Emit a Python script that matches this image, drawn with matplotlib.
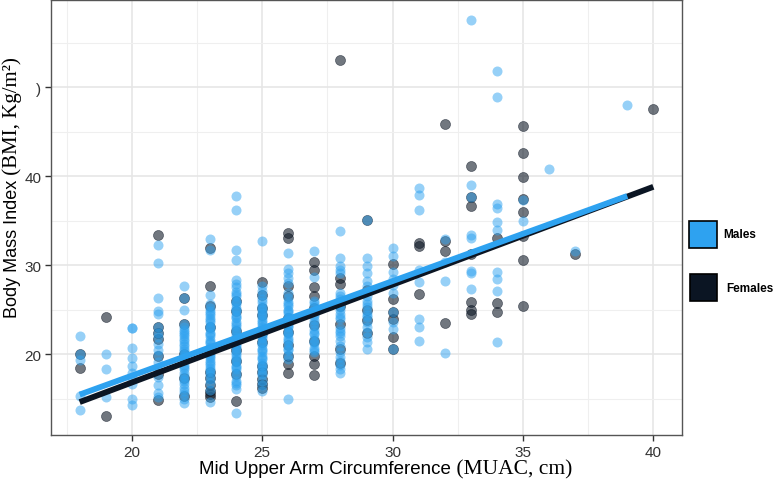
import matplotlib
matplotlib.use("Agg")
import matplotlib.pyplot as plt
from matplotlib.patches import Rectangle
import numpy as np

# ---------------- datos ----------------
MUAC = [18, 19, 20, 21, 22, 23, 24, 25, 26, 27, 28, 29, 30, 31, 32, 33, 34, 35, 36, 37, 39, 40]

male_bmi = {
    18: [22.0, 20.0, 19.3, 15.3, 13.7],
    19: [20.0, 18.3, 15.2],
    20: [22.9, 22.9, 20.7, 19.6, 18.7, 17.9, 17.2, 16.6, 15.0, 14.3],
    21: [32.3, 30.2, 26.3, 24.8, 24.5, 23.0, 22.4, 21.9, 21.1, 20.4, 19.9, 19.1, 18.2, 17.4,
         16.5, 15.6, 15.2],
    22: [27.6, 26.3, 25.0, 23.4, 23.0, 22.7, 22.5, 22.2, 22.0, 21.7, 21.5, 21.1, 20.9, 20.6,
         20.3, 20.0, 19.8, 19.6, 19.2, 18.8, 18.5, 18.3, 17.9, 17.5, 17.2, 17.0, 16.6, 16.2,
         15.8, 15.5, 15.0, 14.5],
    23: [32.9, 31.7, 26.6, 25.6, 25.2, 24.8, 24.6, 24.4, 24.0, 23.8, 23.6, 23.2, 23.0, 22.8,
         22.4, 22.2, 22.0, 21.6, 21.4, 21.2, 20.8, 20.6, 20.4, 20.0, 19.8, 19.6, 19.2, 19.0,
         18.8, 18.4, 18.2, 18.0, 17.6, 17.2, 16.8, 16.0, 14.6],
    24: [37.8, 36.2, 31.7, 30.6, 28.3, 27.9, 27.5, 27.0, 26.7, 26.5, 26.0, 25.8, 25.6, 25.2,
         25.0, 24.8, 24.4, 24.2, 24.0, 23.6, 23.4, 23.2, 22.8, 22.6, 22.3, 21.9, 21.7, 21.5,
         21.1, 20.9, 20.7, 20.3, 20.1, 19.9, 19.5, 19.3, 19.1, 18.7, 18.5, 18.3, 17.9, 17.5,
         17.0, 16.8, 16.5, 16.1, 13.4],
    25: [32.7, 27.6, 27.1, 26.6, 26.2, 25.9, 25.4, 25.2, 25.0, 24.6, 24.4, 24.2, 23.8, 23.6,
         23.4, 23.0, 22.8, 22.6, 22.2, 22.0, 21.8, 21.4, 21.2, 21.0, 20.6, 20.4, 20.2, 19.8,
         19.6, 19.4, 19.0, 18.8, 18.6, 18.2, 17.9, 17.6, 17.0, 16.5, 15.8],
    26: [31.4, 29.6, 29.1, 28.6, 28.0, 26.9, 26.3, 25.9, 25.6, 25.4, 25.0, 24.8, 24.6, 24.2,
         24.0, 23.8, 23.4, 23.2, 23.0, 22.6, 22.4, 22.2, 21.8, 21.6, 21.3, 20.9, 20.6, 20.4,
         19.9, 19.4, 14.9],
    27: [31.6, 28.7, 26.0, 25.7, 25.4, 24.8, 24.5, 24.3, 23.8, 23.5, 23.2, 22.7, 22.4, 22.2,
         21.7, 21.4, 21.2, 20.7, 20.4, 20.2],
    28: [33.8, 30.8, 29.9, 29.5, 29.1, 26.9, 26.5, 26.2, 25.9, 25.6, 25.3, 25.0, 24.5, 24.2,
         23.9, 22.9, 22.6, 22.4, 22.0, 21.5, 20.9, 20.2, 19.7, 19.2, 18.8, 18.3, 17.9],
    29: [35.1, 30.8, 29.9, 29.1, 28.2, 27.6, 26.5, 26.0, 25.6, 25.3, 24.7, 24.4, 24.2, 23.6,
         23.0, 22.5, 21.9, 21.3, 20.6],
    30: [31.9, 31.0, 29.2, 28.4, 27.8, 26.9, 24.7, 23.6, 22.8, 20.6],
    31: [38.7, 37.9, 36.2, 29.5, 28.1, 23.9, 23.0, 21.5],
    32: [32.9, 30.3, 28.2, 20.1],
    33: [57.5, 39.0, 37.6, 33.4, 33.1, 29.3, 29.1, 27.3],
    34: [51.8, 48.9, 36.9, 36.4, 34.8, 34.0, 29.2, 28.4, 27.1, 21.4],
    35: [37.3, 35.0],
    36: [40.8],
    37: [31.6],
    39: [48.0],
}

female_bmi = {
    18: [20.0, 18.4],
    19: [24.2, 13.0],
    21: [33.4, 23.0, 22.4, 21.7, 19.8, 17.8, 14.8],
    22: [26.3, 23.4, 20.0, 17.3, 15.3],
    23: [31.9, 27.7, 25.4, 23.0, 20.3, 18.0, 17.3, 16.5, 15.9, 15.5, 15.2],
    24: [26.0, 24.8, 22.6, 20.5, 19.2, 17.8, 14.7],
    25: [28.1, 26.6, 25.2, 24.4, 22.4, 21.4, 18.7, 18.0, 17.2, 16.6, 16.2],
    26: [33.6, 33.1, 27.7, 26.5, 24.0, 22.5, 21.0, 19.8, 18.9, 17.9],
    27: [30.3, 29.4, 27.5, 26.5, 25.2, 23.3, 21.5, 19.8, 18.9, 17.6],
    28: [53.1, 28.6, 27.9, 25.4, 23.4, 20.6, 19.0],
    29: [35.1, 27.2, 25.0, 23.8, 22.4],
    30: [30.1, 26.2, 24.7, 23.9, 21.9, 20.6],
    31: [32.5, 32.1, 26.7],
    32: [45.9, 32.7, 31.6, 23.5],
    33: [41.1, 37.6, 36.6, 31.2, 25.8, 25.0, 24.5],
    34: [33.1, 25.7, 24.7],
    35: [45.6, 42.6, 39.9, 37.4, 36.0, 33.3, 30.6, 25.4],
    37: [31.3],
    40: [47.6],
}

# recta ajustada (intercepto, pendiente) de cada grupo
male_fit = (-3.69, 1.063)
female_fit = (-5.20, 1.100)

groups = ["Males", "Females"]
C = {"Males": "#2ea2f0", "Females": "#0b1523"}

SANS = "Liberation Sans"
SERIF = "Liberation Serif"


def flat(d):
    xs, ys = [], []
    for k in MUAC:
        for b in d.get(k, []):
            xs.append(k)
            ys.append(b)
    return np.array(xs), np.array(ys)


mx, my = flat(male_bmi)
fx, fy = flat(female_bmi)

# ---------------- figura ----------------
W, H = 777, 485
fig = plt.figure(figsize=(W / 100, H / 100), dpi=100)
ax = fig.add_axes([51 / W, 1 - 436 / H, (682 - 51) / W, (436 - 1) / H])

ax.scatter(fx, fy, s=52, color=C["Females"], alpha=0.58, edgecolors="#0b1523",
           linewidths=0.5, zorder=3)
ax.scatter(mx, my, s=52, color=C["Males"], alpha=0.5, linewidths=0, zorder=4)

xf = np.array([fx.min(), fx.max()])
ax.plot(xf, female_fit[0] + female_fit[1] * xf, color=C["Females"], lw=4.2,
        solid_capstyle="butt", zorder=5)
xm = np.array([mx.min(), mx.max()])
ax.plot(xm, male_fit[0] + male_fit[1] * xm, color=C["Males"], lw=4.2,
        solid_capstyle="butt", zorder=6)

ax.set_xlim(16.9, 41.1)
ax.set_ylim(10.9, 59.8)
ax.set_xticks([20, 25, 30, 35, 40])
ax.set_xticks([17.5, 22.5, 27.5, 32.5, 37.5], minor=True)
ax.set_yticks([20, 30, 40, 50])
ax.set_yticklabels(["20", "30", "40", ")"])
ax.set_yticks([15, 25, 35, 45, 55], minor=True)

ax.grid(which="major", color="#e6e6e6", lw=1.2, zorder=0)
ax.grid(which="minor", color="#efefef", lw=0.8, zorder=0)
ax.set_axisbelow(True)
for sp in ax.spines.values():
    sp.set_color("#555555")
    sp.set_linewidth(1.0)
ax.tick_params(which="major", length=4, width=1, color="#333333", labelsize=11,
               labelcolor="#333333", pad=3)
ax.tick_params(which="minor", length=0)
for lab in ax.get_xticklabels() + ax.get_yticklabels():
    lab.set_family(SANS)

# ---------------- etiquetas con dos fuentes ----------------
fig.canvas.draw()
r = fig.canvas.get_renderer()

# eje x
t1 = fig.text(0, 0, "Mid Upper Arm Circumference", family=SANS, size=13.5,
              ha="left", va="baseline")
t2 = fig.text(0, 0, " (MUAC, cm)", family=SERIF, size=15.5, ha="left", va="baseline")
w1 = t1.get_window_extent(r).width
w2 = t2.get_window_extent(r).width
x0 = 385.5 - (w1 + w2) / 2
yb = 1 - 474 / H
t1.set_position((x0 / W, yb))
t2.set_position(((x0 + w1) / W, yb))

# eje y
u1 = fig.text(0, 0, "Body Mass Index", family=SANS, size=13, rotation=90,
              rotation_mode="anchor", ha="left", va="baseline")
u2 = fig.text(0, 0, " (BMI, Kg/m²)", family=SERIF, size=15, rotation=90,
              rotation_mode="anchor", ha="left", va="baseline")
h1 = u1.get_window_extent(r).height
xb = 17 / W
y0 = 318
u1.set_position((xb, 1 - y0 / H))
u2.set_position((xb, 1 - (y0 - h1) / H))

# ---------------- leyenda ----------------
boxes = {"Males": (689, 222, 28, 27), "Females": (690, 275, 27, 27)}
text_x = {"Males": 723, "Females": 726}
for g in groups:
    bx, by, bw, bh = boxes[g]
    fig.add_artist(Rectangle((bx / W, 1 - (by + bh) / H), bw / W, bh / H,
                             transform=fig.transFigure, facecolor=C[g],
                             edgecolor="black", lw=1.2))
    fig.text(text_x[g] / W, 1 - (by + bh / 2) / H, g, family=SANS, size=8.5,
             weight="bold", ha="left", va="center")

fig.savefig("out.png", dpi=100)
